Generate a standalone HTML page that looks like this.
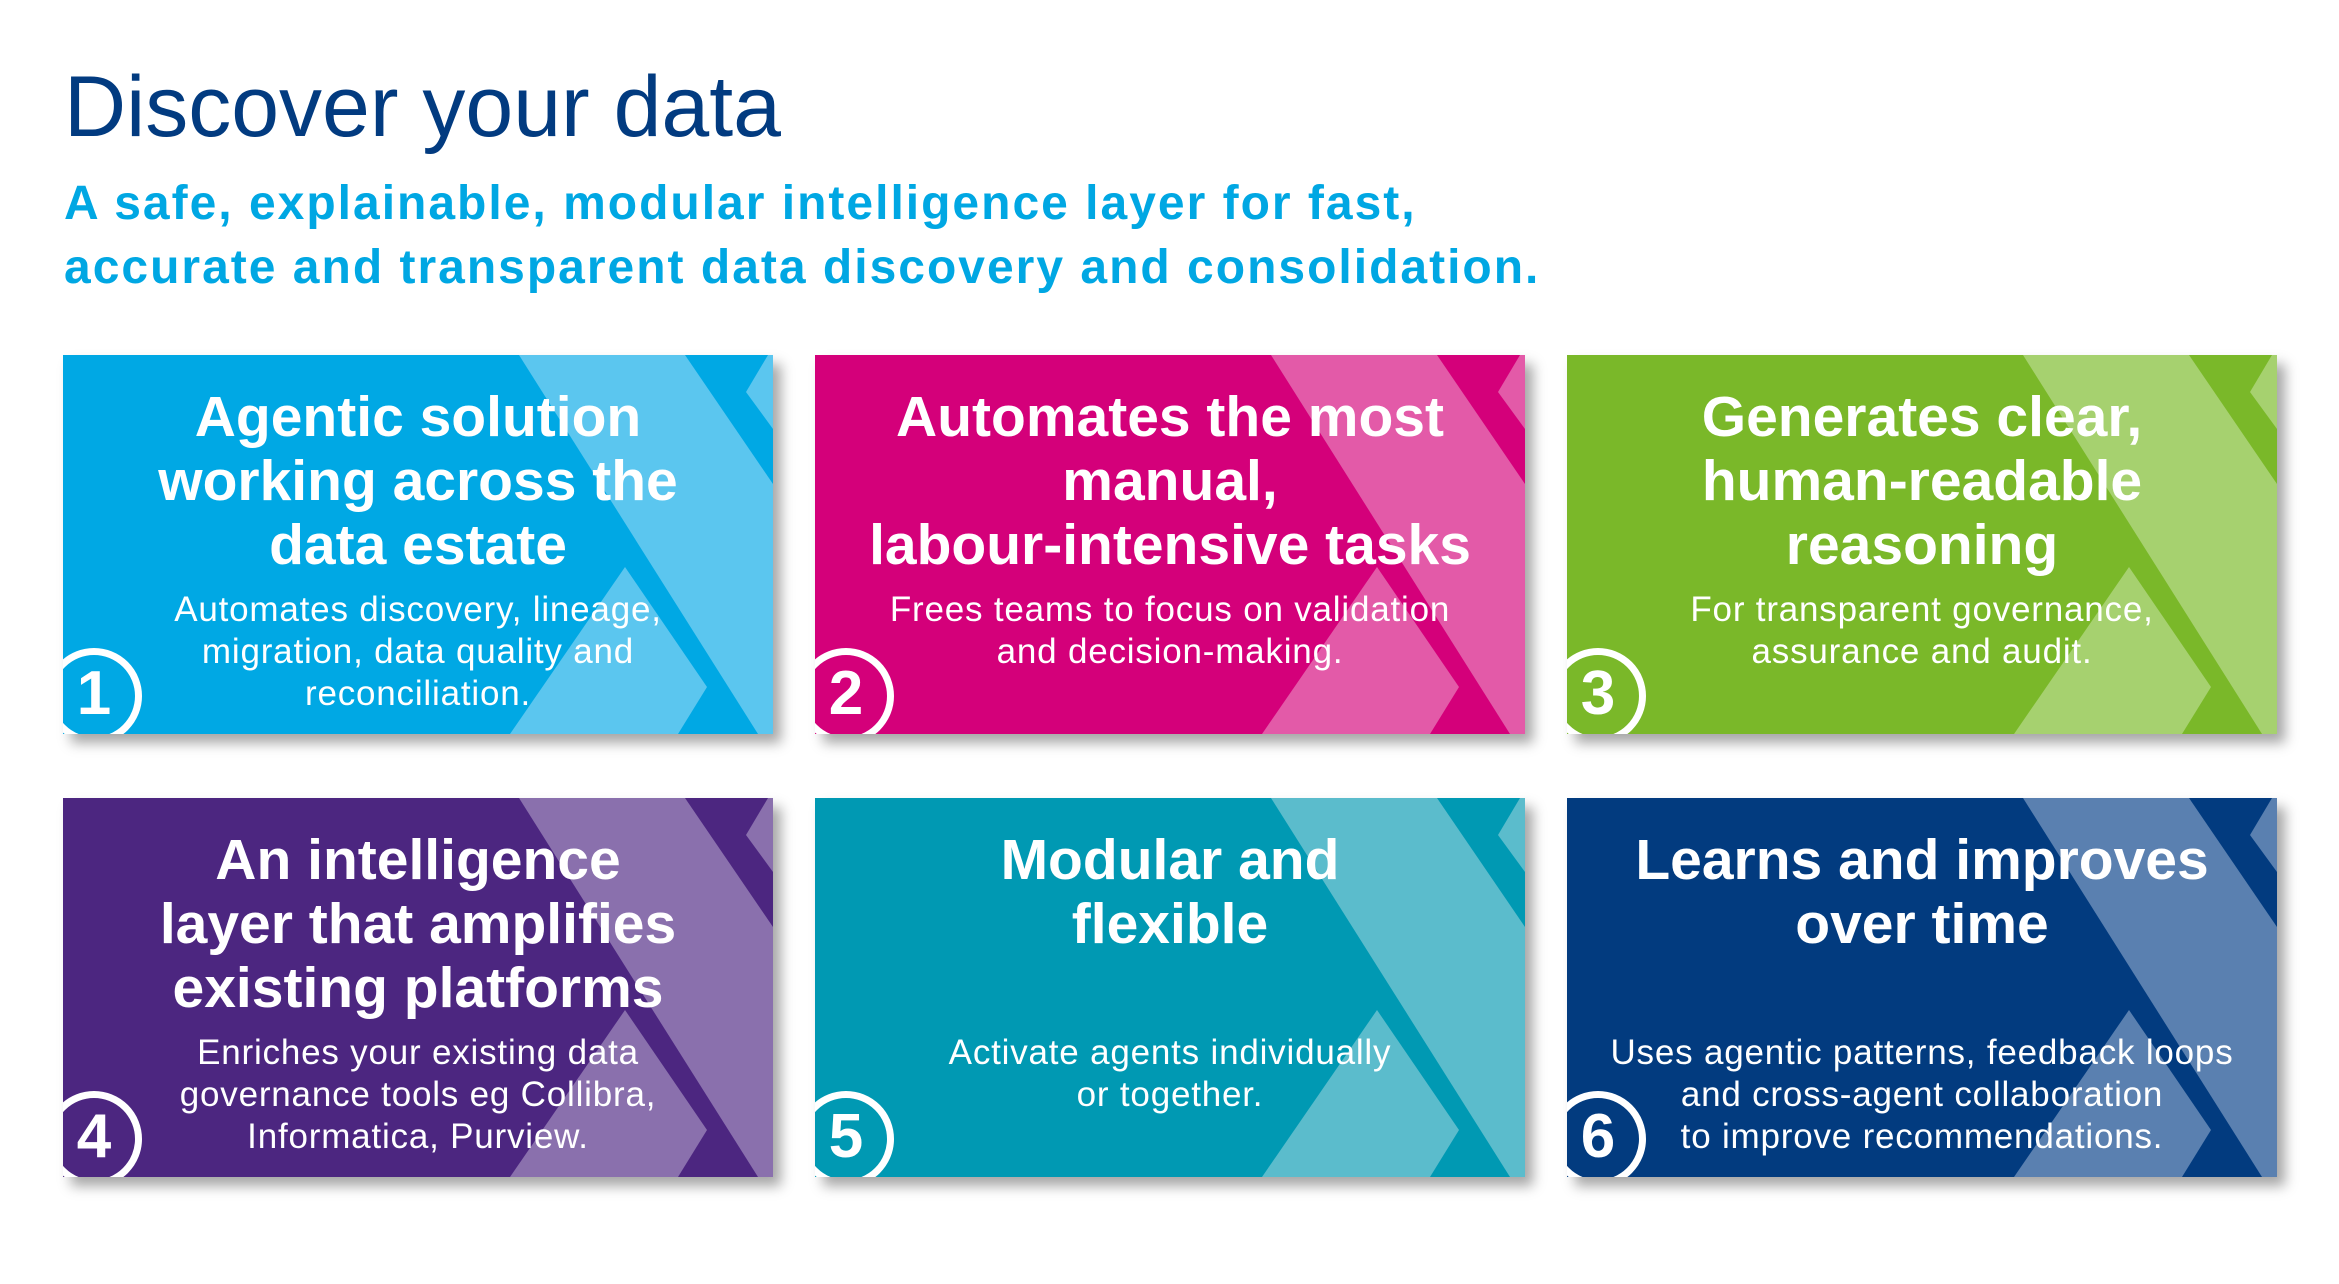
<!DOCTYPE html>
<html><head><meta charset="utf-8">
<style>
html,body{margin:0;padding:0;background:#fff;}
body{width:2339px;height:1284px;position:relative;overflow:hidden;font-family:"Liberation Sans",sans-serif;}
.t{position:absolute;left:64px;top:60px;font-size:86px;color:#023b80;line-height:95px;white-space:nowrap;}
.s{position:absolute;left:64px;top:172px;font-size:48px;letter-spacing:2px;font-weight:bold;color:#00a7e3;line-height:64px;white-space:nowrap;}
.card{position:absolute;width:710px;height:379px;overflow:hidden;box-shadow:8px 9px 12px rgba(0,0,0,0.35);}
.card svg{position:absolute;left:0;top:0;}
.h{position:absolute;left:0;width:710px;top:30px;text-align:center;color:#fff;font-weight:bold;font-size:57px;line-height:64px;}
.b{position:absolute;left:0;width:710px;top:234px;text-align:center;color:#fff;font-size:35px;letter-spacing:0.8px;line-height:42px;}
.n{position:absolute;left:31px;top:341px;width:0;height:0;}
.n div{position:absolute;left:-48px;top:-48px;width:82px;height:82px;border:7px solid #fff;border-radius:50%;}
.n span{position:absolute;left:-35px;top:-37px;width:70px;text-align:center;color:#fff;font-weight:bold;font-size:62px;line-height:70px;}
</style></head><body>
<div class="t">Discover your data</div>
<div class="s">A safe, explainable, modular intelligence layer for fast,<br>accurate and transparent data discovery and consolidation.</div>

<div class="card" style="left:63px;top:355px;background:#00a8e4">
<svg width="710" height="379"><g fill="#5bc6ef"><polygon points="456,0 622,0 710,129 710,379 695,379"/><polygon points="562,212 644,332 615,379 447,379"/><polygon points="705,0 710,0 710,74 683,37"/></g></svg>
<div class="h">Agentic solution<br>working across the<br>data estate</div>
<div class="b">Automates discovery, lineage,<br>migration, data quality and<br>reconciliation.</div>
<div class="n"><div></div><span>1</span></div>
</div>

<div class="card" style="left:815px;top:355px;background:#d4007a">
<svg width="710" height="379"><g fill="#e35aa8"><polygon points="456,0 622,0 710,129 710,379 695,379"/><polygon points="562,212 644,332 615,379 447,379"/><polygon points="705,0 710,0 710,74 683,37"/></g></svg>
<div class="h">Automates the most<br>manual,<br>labour-intensive tasks</div>
<div class="b">Frees teams to focus on validation<br>and decision-making.</div>
<div class="n"><div></div><span>2</span></div>
</div>

<div class="card" style="left:1567px;top:355px;background:#7ab829">
<svg width="710" height="379"><g fill="#a6d16f"><polygon points="456,0 622,0 710,129 710,379 695,379"/><polygon points="562,212 644,332 615,379 447,379"/><polygon points="705,0 710,0 710,74 683,37"/></g></svg>
<div class="h">Generates clear,<br>human-readable<br>reasoning</div>
<div class="b">For transparent governance,<br>assurance and audit.</div>
<div class="n"><div></div><span>3</span></div>
</div>

<div class="card" style="left:63px;top:798px;background:#4c2680">
<svg width="710" height="379"><g fill="#8a70ad"><polygon points="456,0 622,0 710,129 710,379 695,379"/><polygon points="562,212 644,332 615,379 447,379"/><polygon points="705,0 710,0 710,74 683,37"/></g></svg>
<div class="h">An intelligence<br>layer that amplifies<br>existing platforms</div>
<div class="b">Enriches your existing data<br>governance tools eg Collibra,<br>Informatica, Purview.</div>
<div class="n"><div></div><span>4</span></div>
</div>

<div class="card" style="left:815px;top:798px;background:#0099b3">
<svg width="710" height="379"><g fill="#5bbccc"><polygon points="456,0 622,0 710,129 710,379 695,379"/><polygon points="562,212 644,332 615,379 447,379"/><polygon points="705,0 710,0 710,74 683,37"/></g></svg>
<div class="h">Modular and<br>flexible</div>
<div class="b">Activate agents individually<br>or together.</div>
<div class="n"><div></div><span>5</span></div>
</div>

<div class="card" style="left:1567px;top:798px;background:#023b7f">
<svg width="710" height="379"><g fill="#5a80b0"><polygon points="456,0 622,0 710,129 710,379 695,379"/><polygon points="562,212 644,332 615,379 447,379"/><polygon points="705,0 710,0 710,74 683,37"/></g></svg>
<div class="h">Learns and improves<br>over time</div>
<div class="b">Uses agentic patterns, feedback loops<br>and cross-agent collaboration<br>to improve recommendations.</div>
<div class="n"><div></div><span>6</span></div>
</div>
</body></html>
